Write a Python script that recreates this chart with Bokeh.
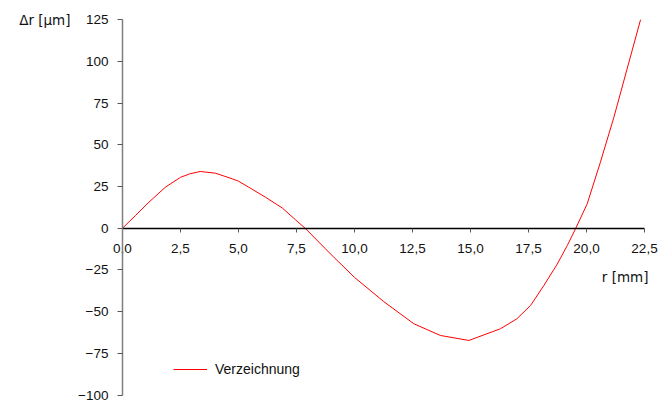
from bokeh.plotting import figure
from bokeh.models import (LinearAxis, Range1d, FixedTicker, CustomJSTickFormatter,
                          Label, Legend, LegendItem)
from bokeh.embed import file_html
from bokeh.resources import INLINE

# data
r_mm = [0, 0.56, 1.14, 1.85, 2.5, 2.9, 3.35, 4.0, 4.73, 5.0, 5.44, 6.16, 6.88, 7.46, 7.87,
        8.75, 9.11, 10.0, 11.26, 12.56, 13.7, 14.93, 16.29, 17.0, 17.59, 18.16, 18.74,
        19.17, 19.54, 20.03, 20.6, 21.18, 21.75, 22.33]
dr_um = [0, 7.6, 15.6, 24.6, 30.5, 32.6, 34.0, 33.0, 29.6, 28.2, 24.6, 18.6, 12.2, 5.0, 0,
         -12.4, -17.4, -29.5, -44.0, -57.3, -64.3, -67.3, -60.3, -54.3, -46.3, -34.4, -21.5,
         -10.4, 0, 14.6, 39.6, 66.5, 95.5, 125.0]
x_ticks = [0, 2.5, 5, 7.5, 10, 12.5, 15, 17.5, 20, 22.5]
y_ticks = [-100, -75, -50, -25, 0, 25, 50, 75, 100, 125]
series_name = "Verzeichnung"
x_title = "r [mm]"
y_title = "Δr [µm]"

FONT = "Liberation Sans"
TFONT = "DejaVu Sans"
FS = "13.5px"
W, H = 659, 401
# pixel geometry of the plot area (axis origin and scale)
X0_PX, PX_PER_MM = 122, 23.2
Y0_PX, PX_PER_UM = 227.7, 1.668

p = figure(width=W, height=H, output_backend="svg", toolbar_location=None,
           x_range=Range1d(-X0_PX / PX_PER_MM, (W - X0_PX) / PX_PER_MM),
           y_range=Range1d((Y0_PX - H) / PX_PER_UM, Y0_PX / PX_PER_UM),
           x_axis_location=None, y_axis_location=None,
           min_border_left=0, min_border_right=0, min_border_top=0, min_border_bottom=0)
p.outline_line_color = None
p.xgrid.visible = False
p.ygrid.visible = False

yaxis = LinearAxis(ticker=FixedTicker(ticks=y_ticks), fixed_location=0,
                   bounds=(y_ticks[0], y_ticks[-1]))
yaxis.axis_line_color = "#7f7f7f"
yaxis.axis_line_width = 1.5
yaxis.major_tick_line_color = "#555555"
yaxis.major_tick_in = 0
yaxis.major_tick_out = 5
yaxis.minor_tick_line_color = None
yaxis.major_label_standoff = 9
yaxis.major_label_text_font = FONT
yaxis.major_label_text_font_size = FS
yaxis.major_label_text_color = "#111111"
p.add_layout(yaxis, "left")

xaxis = LinearAxis(ticker=FixedTicker(ticks=x_ticks), fixed_location=0,
                   bounds=(x_ticks[0], x_ticks[-1]),
                   formatter=CustomJSTickFormatter(code="return tick.toFixed(1).replace('.', ',');"))
xaxis.axis_line_color = "#000000"
xaxis.axis_line_width = 1.3
xaxis.major_tick_line_color = "#555555"
xaxis.major_tick_in = 0
xaxis.major_tick_out = 4
xaxis.minor_tick_line_color = None
xaxis.major_label_standoff = 12
xaxis.major_label_text_font = FONT
xaxis.major_label_text_font_size = FS
xaxis.major_label_text_color = "#111111"
p.add_layout(xaxis, "below")

line = p.line(r_mm, dr_um, line_color="#ff0000", line_width=1)

p.add_layout(Label(x=(70 - X0_PX) / PX_PER_MM, y=y_ticks[-1], text=y_title,
                   text_align="right", text_baseline="middle",
                   text_font=TFONT, text_font_size=FS, text_color="#111111"))
p.add_layout(Label(x=(648 - X0_PX) / PX_PER_MM, y=(Y0_PX - 276.7) / PX_PER_UM, text=x_title,
                   text_align="right", text_baseline="middle",
                   text_font=TFONT, text_font_size=FS, text_color="#111111"))

legend = Legend(items=[LegendItem(label=series_name, renderers=[line])],
                location=(173, 22), padding=0, margin=0, glyph_width=34, label_standoff=8,
                border_line_color=None, background_fill_alpha=0,
                label_text_font=FONT, label_text_font_size="14px", label_text_color="#111111")
p.add_layout(legend)

open("out.html", "w").write(file_html(p, INLINE))
